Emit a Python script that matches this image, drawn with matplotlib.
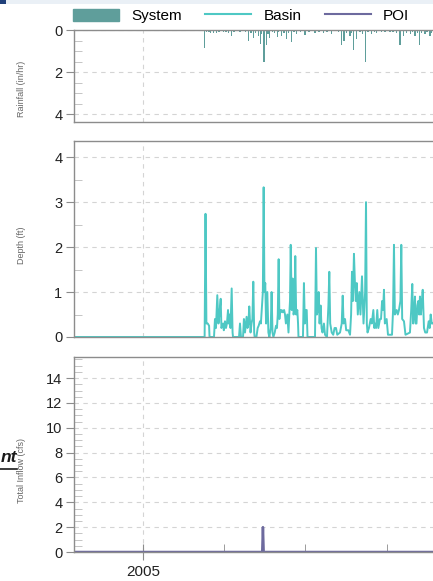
import numpy as np
import matplotlib
matplotlib.use("Agg")
import matplotlib.pyplot as plt
from matplotlib.patches import Patch, Rectangle
from matplotlib.lines import Line2D
from matplotlib.ticker import MultipleLocator, FixedLocator

plt.rcParams['font.family'] = ['Liberation Sans', 'DejaVu Sans']

# days counted from 1 Jan 2005
rain_day = [69, 71, 74, 76, 79, 82.5, 85, 90, 93, 96, 99, 102, 108.6, 112, 115, 118,
            121, 123.5, 126, 129, 131.8, 133, 135.5, 138.5, 140, 142, 145, 147, 150.4,
            152, 155.3, 158, 161, 163, 166.5, 169, 172, 176, 181.4, 186, 192.6, 197,
            201.9, 206, 211.3, 216, 219, 222.5, 225, 228, 231.8, 233, 235.4, 239.3,
            243, 246, 249.3, 252, 256, 259, 261.6, 264, 267.2, 271, 276.5, 280, 284,
            287.7, 291.4, 295, 299.7, 302, 304.5, 307, 309.3, 312, 315.7, 318, 321.3, 323]
rain = [0.87, 0.1, 0.08, 0.12, 0.15, 0.15, 0.1, 0.1, 0.08, 0.12, 0.3, 0.08, 0.1, 0.06,
        0.1, 0.5, 0.15, 0.4, 0.12, 0.3, 0.65, 0.2, 1.5, 0.7, 0.2, 0.4, 0.1, 0.15, 0.35,
        0.1, 0.3, 0.12, 0.45, 0.15, 0.55, 0.1, 0.2, 0.08, 0.25, 0.1, 0.15, 0.08,
        0.15, 0.1, 0.2, 0.06, 0.1, 0.7, 0.5, 0.12, 0.3, 0.15, 0.95, 0.45,
        0.1, 0.2, 1.5, 0.1, 0.2, 0.08, 0.15, 0.06, 0.1, 0.08, 0.1, 0.08, 0.15,
        0.7, 0.3, 0.12, 0.2, 0.1, 0.3, 0.15, 0.7, 0.12, 0.2, 0.1, 0.3, 0.15]

depth_day = [-78, 69, 70, 71, 72.5, 74, 74.5, 79.5, 80.6, 81.7, 83.2, 84.5, 85.5, 87,
             87.8, 89.6, 90.5, 91.8, 92.9, 94, 95.2, 96, 96.8, 98, 99.3, 100.3, 100.8,
             107.5, 108.6, 109.7, 112, 113, 114.2, 116, 117, 118, 119, 120.4, 121.5,
             122.5, 123.5, 124.5, 125, 127, 128.4, 129.5, 131, 132, 133.2, 134.2, 135.1,
             136, 136.9, 137.8, 139.2, 140.4, 141.5, 143, 144, 145, 146, 147.5, 148.9,
             150, 150.9, 151.9, 152.7, 153.4, 154.3, 155.3, 156.5, 158, 159, 160, 161.6,
             162.9, 163.8, 164.6, 165.4, 166.5, 167.6, 168.6, 169.6, 170.5, 171.5, 172.8,
             173.6, 174.1, 179.1, 180.2, 181.2, 182.3, 183.3, 184.2, 192.6, 193.7, 194.7,
             195.7, 196.7, 197.7, 198.9, 199.9, 201, 202.6, 203.8, 206, 207.6, 208.6,
             209.6, 211.3, 213, 214.5, 216.1, 217.5, 220.6, 222.5, 223.6, 224.6, 226.2,
             227.5, 229.9, 231.8, 233, 234, 235, 236.2, 237.3, 238.3, 239.3, 240.5, 242.2,
             243.5, 245.2, 246.9, 248.7, 249.7, 250.6, 251.4, 253, 254.9, 256.2, 257.9,
             259, 259.8, 261, 262.3, 263.5, 265.3, 266.5, 267.7, 268.8, 269.8, 270.8,
             272.8, 274.3, 278.8, 280, 281, 282, 284, 285.3, 286.6, 288.2, 289.2, 290.2,
             292.2, 293.9, 298.9, 300.3, 301.5, 302.5, 303.5, 304.5, 305.3, 306.2, 307.2,
             308.2, 309.2, 310.1, 311.2, 312.2, 313.2, 314.6, 316, 318, 319.9, 321, 322.1,
             323.3, 324.7]
depth = [0, 0, 2.74, 0.3, 0.3, 0.25, 0, 0, 0.4, 0.2, 0.93, 0.3, 0.5, 0.85,
         0.2, 0.3, 0.15, 0.35, 0.2, 0.3, 0.6, 0.3, 0.5, 0.2, 1.08, 0.1, 0,
         0, 0.3, 0, 0, 0.4, 0.1, 0.45, 0.2, 0.3, 0.68, 0.1, 0.3,
         0.4, 1.23, 0.1, 0, 0, 0.2, 0.25, 0.35, 0.3, 0.7, 1.0, 3.33,
         1.0, 1.2, 0.3, 1.0, 0.1, 0, 0.2, 1.0, 0.1, 0, 0.1, 0.25,
         0.2, 0.5, 1.73, 0.4, 0.6, 0.55, 0.6, 0.55, 0.6, 0.5, 0.3, 0.5,
         0.1, 0.5, 0.8, 2.05, 0.6, 1.3, 0.5, 0.6, 1.8, 0.5, 0.6,
         0.3, 0, 0, 1.2, 0.3, 0.6, 0.6, 0, 0, 1.98, 0.5,
         0.6, 1.0, 0.3, 0.7, 0.2, 0.1, 0.3, 0.05, 0, 0.7, 1.45,
         0.3, 0.1, 0.05, 0.2, 0.2, 0.05, 0.1, 0.3, 0.92, 0.3, 0.4,
         0.15, 0.15, 0.05, 0.5, 1.45, 0.8, 1.85, 1.2, 0.8, 1.2, 0.5, 1.0,
         0.5, 1.35, 0.3, 1.0, 3.0, 0.3, 0.1, 0.2, 0.4, 0.3, 0.6,
         0.2, 0.3, 0.2, 0.6, 0.2, 0.4, 0.4, 0.8, 0.6, 1.05, 0.3,
         0.4, 0.05, 0.05, 0.6, 2.05, 0.5, 0.6, 0.5, 0.6, 0.8, 2.05, 0.4,
         0.35, 0.05, 0.1, 0.6, 1.18, 0.3, 0.5, 0.9, 0.3, 0.3, 0.7,
         0.8, 0.5, 0.9, 0.5, 0.8, 1.05, 0.2, 0.1, 0.1, 0.35, 0.2, 0.5,
         0.3, 0.3]

inflow_day = [-78, 133.5, 134.3, 135.1, 324.7]
inflow = [0, 0, 2.0, 0, 0]

c_sys = '#5f9e9b'
c_basin = '#4ec8c4'
c_poi = '#6d6a9e'
c_spine = '#8c8c8c'

W, H = 433, 581
fig = plt.figure(figsize=(W / 100, H / 100), dpi=100, facecolor='white')

def ax_at(top, bottom):
    l = 73.5 / W
    return fig.add_axes([l, 1 - bottom / H, 1 - l, (bottom - top) / H])

ax1 = ax_at(30, 122)
ax2 = ax_at(141, 337)
ax3 = ax_at(357, 552)

ax1.bar(rain_day, rain, width=1.4, color=c_sys, linewidth=0)
ax1.set_ylim(4.38, 0)
ax1.yaxis.set_major_locator(FixedLocator([0, 2, 4]))
ax1.yaxis.set_minor_locator(MultipleLocator(0.5))
ax1.set_ylabel('Rainfall (in/hr)')
ax1.yaxis.set_label_coords(-0.133, 0.36)

ax2.plot(depth_day, depth, color=c_basin, lw=1.4)
ax2.set_ylim(0, 4.36)
ax2.yaxis.set_major_locator(MultipleLocator(1))
ax2.yaxis.set_minor_locator(MultipleLocator(0.5))
ax2.set_ylabel('Depth (ft)')
ax2.yaxis.set_label_coords(-0.133, 0.47)

ax3.plot(inflow_day, inflow, color=c_poi, lw=1.8)
ax3.set_ylim(0, 15.7)
ax3.yaxis.set_major_locator(MultipleLocator(2))
ax3.yaxis.set_minor_locator(MultipleLocator(0.5))
ax3.set_ylabel('Total Inflow (cfs)')
ax3.yaxis.set_label_coords(-0.133, 0.42)

for ax in [ax1, ax2, ax3]:
    ax.set_xlim(-77.8, 324.7)
    ax.set_facecolor('white')
    ax.yaxis.label.set_fontsize(6.5)
    ax.yaxis.label.set_color('#666666')
    for s in ['left', 'top', 'bottom']:
        ax.spines[s].set_color(c_spine)
        ax.spines[s].set_linewidth(1.0)
    ax.spines['right'].set_visible(False)
    ax.grid(True, which='major', color='#d4d4d4', linestyle=(0, (4, 4)), lw=0.8)
    ax.tick_params(axis='y', which='major', direction='out', length=6, color=c_spine,
                   labelsize=10.5, labelcolor='#222222', pad=2)
    ax.tick_params(axis='y', which='minor', direction='in', length=6, color='#bbbbbb')
    ax.xaxis.set_major_locator(FixedLocator([0]))
    ax.xaxis.set_minor_locator(FixedLocator([90.5, 181.5, 273.5]))
    if ax is ax3:
        ax.set_xticklabels(['2005'])
        ax.tick_params(axis='x', which='major', direction='inout', length=12, color=c_spine,
                       labelsize=11, labelcolor='#222222', pad=3)
        ax.tick_params(axis='x', which='minor', direction='in', length=6, color=c_spine)
    else:
        ax.tick_params(axis='x', which='both', length=0, labelbottom=False)

handles = [Patch(facecolor=c_sys, edgecolor=c_sys),
           Line2D([], [], color=c_basin, lw=1.5),
           Line2D([], [], color=c_poi, lw=1.5)]
fig.legend(handles, ['System', 'Basin', 'POI'], loc='center left',
           bbox_to_anchor=(73 / W, 1 - 16 / H), ncol=3, frameon=False, fontsize=11,
           handlelength=3.0, handleheight=0.9, columnspacing=1.55, handletextpad=0.8,
           borderpad=0, borderaxespad=0)

# slide remnants around the chart
fig.add_artist(Rectangle((0, 1 - 4 / H), 1, 4 / H, transform=fig.transFigure,
                         color='#eaf0f6', lw=0))
fig.add_artist(Rectangle((0, 1 - 4 / H), 6 / W, 4 / H, transform=fig.transFigure,
                         color='#1f3f7a', lw=0))
fig.text(1 / W, 1 - 458 / H, 'nt', ha='left', va='center', fontsize=12.5,
         fontweight='bold', fontstyle='italic', color='#1a1a1a')
fig.add_artist(Line2D([0, 17 / W], [1 - 469 / H, 1 - 469 / H], transform=fig.transFigure,
                      color='#1a1a1a', lw=1.2))

fig.savefig('out.png', dpi=100, facecolor='white')
